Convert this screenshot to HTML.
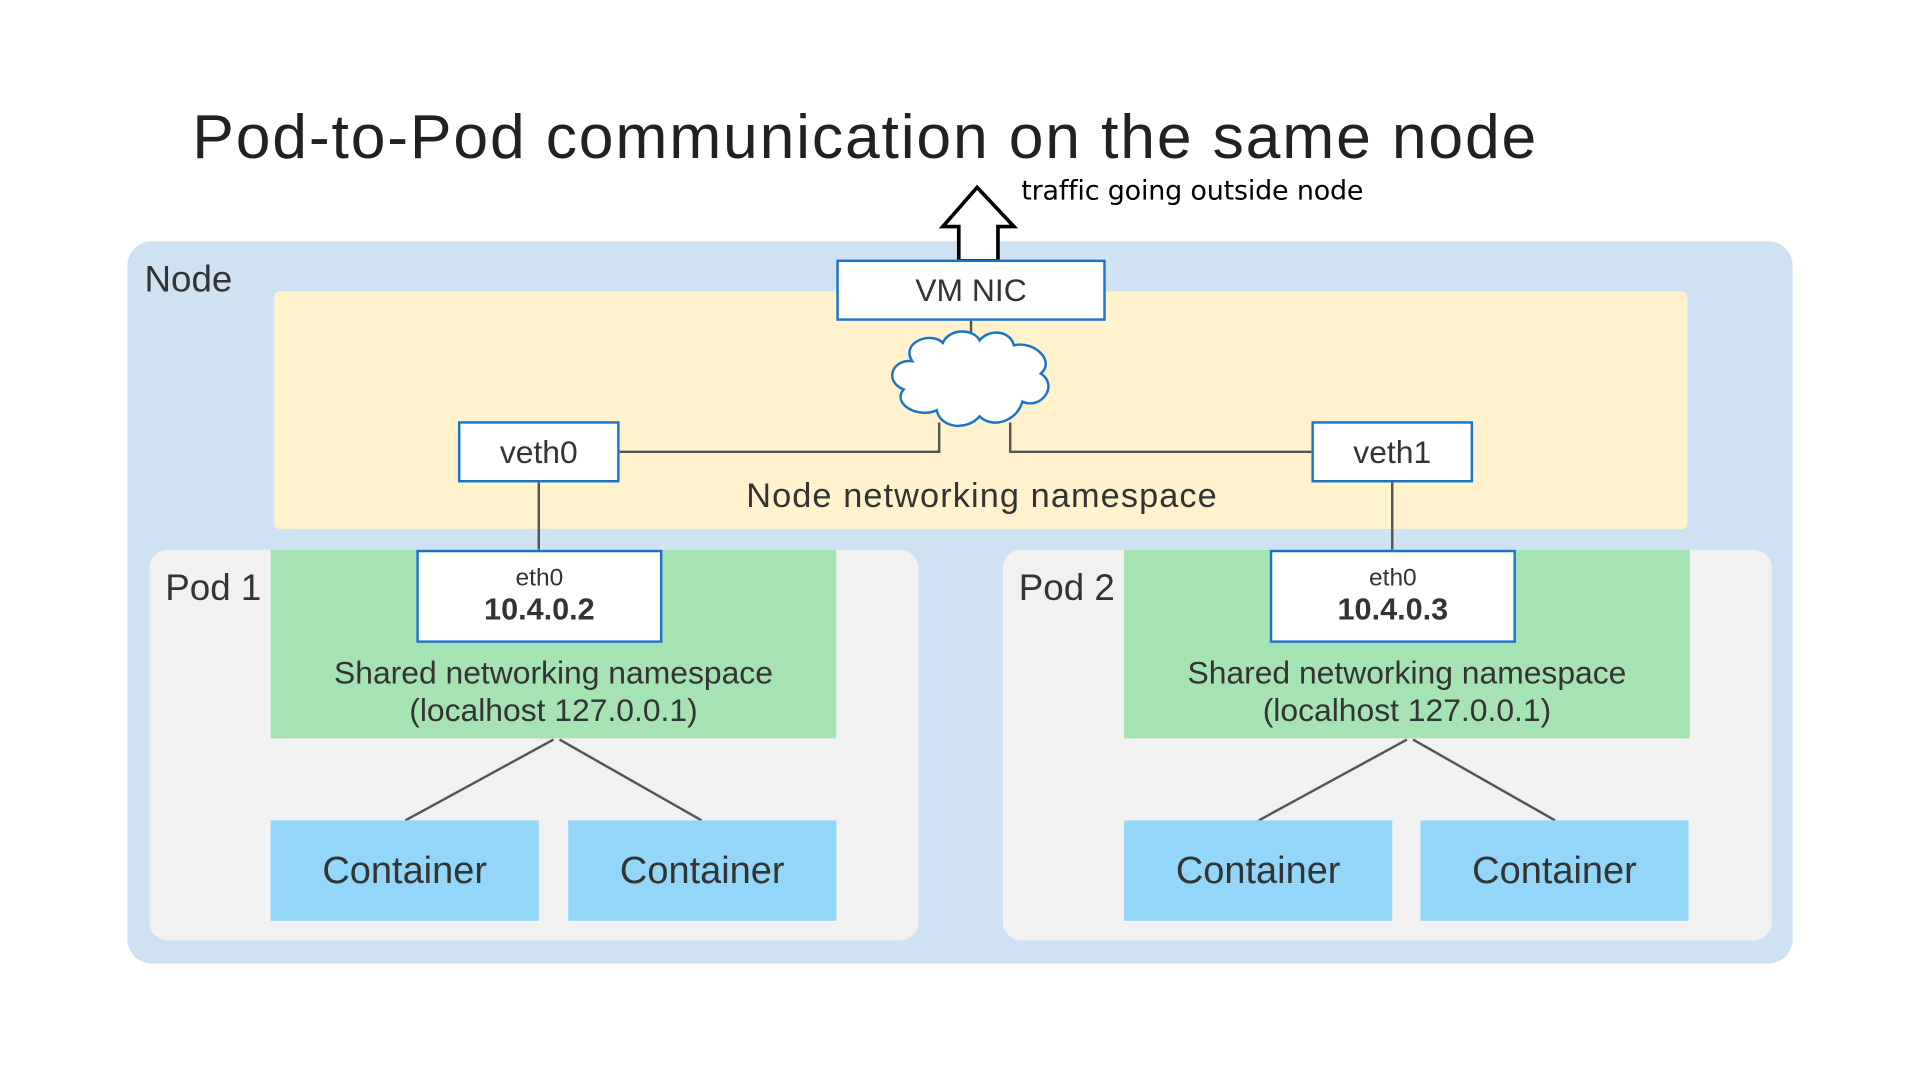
<!DOCTYPE html>
<html><head><style>
html,body{margin:0;padding:0;background:#fff;width:1920px;height:1080px;overflow:hidden}
#s{position:absolute;left:0;top:0;width:1568px;height:882px;transform:scale(1.22449);transform-origin:0 0;font-family:"Liberation Sans",sans-serif;color:#202124}
.a{position:absolute;box-sizing:border-box}
.t{position:absolute;white-space:nowrap}
.box{background:#fff;border:2px solid #1a73c8;display:flex;align-items:center;justify-content:center;flex-direction:column}
.c{background:#93d6f8;display:flex;align-items:center;justify-content:center;font-size:31px;color:#333}
.g{background:#a6e3b3}
</style></head><body><div id="s">
<div class="t" style="left:157px;top:82px;font-size:51px;letter-spacing:1.5px">Pod-to-Pod communication on the same node</div>
<div class="t" style="left:834px;top:144px;font-size:22px;font-family:'DejaVu Sans',sans-serif;color:#000;letter-spacing:-0.15px">traffic going outside node</div>

<div class="a" style="left:104px;top:197px;width:1360px;height:590px;background:#cfe2f3;border-radius:20px"></div>
<div class="t" style="left:118px;top:212px;font-size:30px;color:#333">Node</div>
<div class="a" style="left:224px;top:238px;width:1154px;height:194px;background:#fff2cc;border-radius:4px"></div>
<div class="t" style="left:602px;width:400px;text-align:center;top:389px;font-size:28px;color:#333;letter-spacing:0.9px">Node networking namespace</div>

<div class="a" style="left:122px;top:449px;width:628px;height:319px;background:#f1f1f1;border-radius:15px"></div>
<div class="a" style="left:819px;top:449px;width:628px;height:319px;background:#f1f1f1;border-radius:15px"></div>
<div class="t" style="left:135px;top:464px;font-size:30px;color:#333">Pod 1</div>
<div class="t" style="left:832px;top:464px;font-size:30px;color:#333">Pod 2</div>

<div class="a g" style="left:221px;top:449px;width:462px;height:154px"></div>
<div class="a g" style="left:918px;top:449px;width:462px;height:154px"></div>
<div class="t" style="left:221px;width:462px;text-align:center;top:534px;font-size:26px;line-height:31px;color:#333">Shared networking namespace<br>(localhost 127.0.0.1)</div>
<div class="t" style="left:918px;width:462px;text-align:center;top:534px;font-size:26px;line-height:31px;color:#333">Shared networking namespace<br>(localhost 127.0.0.1)</div>

<svg class="a" style="left:0;top:0" width="1568" height="882">
<g stroke="#555" stroke-width="2" fill="none">
<line x1="793" y1="262" x2="793" y2="278"/>
<polyline points="506,369 767,369 767,345"/>
<polyline points="825,345 825,369 1071,369"/>
<line x1="440" y1="394" x2="440" y2="449"/>
<line x1="1137" y1="394" x2="1137" y2="449"/>
<line x1="452" y1="604" x2="331" y2="670"/>
<line x1="457" y1="604" x2="573" y2="670"/>
<line x1="1149" y1="604" x2="1028" y2="670"/>
<line x1="1154" y1="604" x2="1270" y2="670"/>
</g>
<path d="M798,153 L828,185 L815,185 L815,213 L783,213 L783,185 L770,185 Z" fill="#fff" stroke="#000" stroke-width="3"/>
<path d="M745,295 C735,280 760,270 770,280 C775,268 795,268 800,278 C808,268 825,270 828,282 C845,278 862,295 850,305 C865,315 850,335 835,328 C830,345 810,350 800,340 C790,352 768,350 765,335 C750,342 728,330 738,318 C722,312 728,293 745,295 Z" fill="#fff" stroke="#1a73c8" stroke-width="2"/>
</svg>

<div class="a box" style="left:683px;top:212px;width:220px;height:50px;font-size:26px;color:#333">VM NIC</div>
<div class="a box" style="left:374px;top:344px;width:132px;height:50px;font-size:26px;color:#333">veth0</div>
<div class="a box" style="left:1071px;top:344px;width:132px;height:50px;font-size:26px;color:#333">veth1</div>
<div class="a box" style="left:340px;top:449px;width:201px;height:76px;color:#333"><div style="font-size:20px">eth0</div><div style="font-size:25px;font-weight:bold">10.4.0.2</div></div>
<div class="a box" style="left:1037px;top:449px;width:201px;height:76px;color:#333"><div style="font-size:20px">eth0</div><div style="font-size:25px;font-weight:bold">10.4.0.3</div></div>

<div class="a c" style="left:221px;top:670px;width:219px;height:82px">Container</div>
<div class="a c" style="left:464px;top:670px;width:219px;height:82px">Container</div>
<div class="a c" style="left:918px;top:670px;width:219px;height:82px">Container</div>
<div class="a c" style="left:1160px;top:670px;width:219px;height:82px">Container</div>
</div></body></html>
